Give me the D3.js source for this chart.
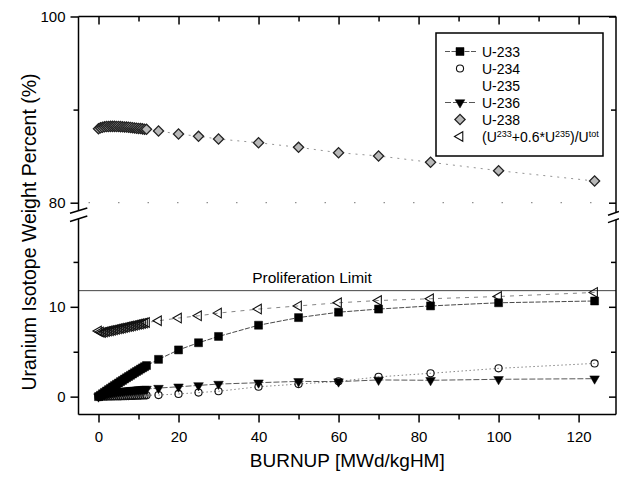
<!DOCTYPE html>
<html>
<head>
<meta charset="utf-8">
<script src="https://cdn.jsdelivr.net/npm/d3@7"></script>
<style>
  body { margin: 0; background: #fff; }
  text { font-family: "Liberation Sans", Arial, sans-serif; fill: #000; }
</style>
</head>
<body>
<svg id="chart"></svg>
<script>
// burnup steps (MWd/kgHM)
const burnup = [0, 0.5, 1, 1.5, 2, 2.5, 3, 3.5, 4, 4.5, 5, 5.5, 6, 6.5, 7, 7.5, 8, 8.5, 9, 9.5, 10, 10.5, 11, 11.5, 12,
  15, 20, 25, 30, 40, 50, 60, 70, 83, 100, 124];

// isotope weight percent
const u233 = [0, 0.16, 0.32, 0.48, 0.63, 0.78, 0.93, 1.08, 1.23, 1.38, 1.52, 1.67, 1.81, 1.96, 2.1, 2.24, 2.38, 2.52, 2.66, 2.8, 2.93, 3.07, 3.2, 3.33, 3.46,
  4.15, 5.2, 6.0, 6.7, 7.95, 8.8, 9.4, 9.75, 10.1, 10.45, 10.65];
const u234 = [0, 0, 0.01, 0.01, 0.01, 0.02, 0.02, 0.02, 0.03, 0.03, 0.04, 0.04, 0.05, 0.05, 0.06, 0.07, 0.08, 0.08, 0.09, 0.1, 0.11, 0.12, 0.13, 0.14, 0.15,
  0.18, 0.3, 0.45, 0.6, 1.1, 1.4, 1.7, 2.2, 2.6, 3.15, 3.7];
const u236 = [0, 0.12, 0.2, 0.27, 0.33, 0.38, 0.42, 0.46, 0.5, 0.53, 0.56, 0.59, 0.61, 0.64, 0.66, 0.68, 0.7, 0.72, 0.74, 0.76, 0.78, 0.8, 0.82, 0.84, 0.85,
  0.95, 1.1, 1.25, 1.4, 1.55, 1.7, 1.67, 1.86, 1.82, 1.93, 2.0];
const u238 = [87.95, 88.04, 88.1, 88.15, 88.18, 88.19, 88.2, 88.2, 88.2, 88.19, 88.18, 88.17, 88.15, 88.14, 88.12, 88.1, 88.08, 88.06, 88.03, 88.0, 87.98, 87.96, 87.93, 87.9, 87.88,
  87.7, 87.38, 87.13, 86.84, 86.44, 85.95, 85.37, 85.02, 84.34, 83.44, 82.33];
const ratio = [7.3, 7.2, 7.15, 7.2, 7.25, 7.3, 7.35, 7.4, 7.45, 7.5, 7.55, 7.6, 7.65, 7.7, 7.75, 7.8, 7.85, 7.9, 7.95, 8.0, 8.05, 8.1, 8.15, 8.2, 8.25,
  8.45, 8.75, 9.0, 9.3, 9.75, 10.1, 10.45, 10.7, 10.9, 11.15, 11.6];

const proliferationLimit = 11.8;

const xTicks = [0, 20, 40, 60, 80, 100, 120];
const xMinor = [10, 30, 50, 70, 90, 110];
const yTopTicks = [100, 80];
const yTopMinor = [90];
const yBotTicks = [0, 10];
const yBotMinor = [5, 15];

const W = 619, H = 479;
const L = 78.5, R = 616, T = 16.5, B = 414.6;

const svg = d3.select('#chart').attr('width', W).attr('height', H);

const x = d3.scaleLinear().domain([-5, 129.35]).range([L, R]);
const yTop = d3.scaleLinear().domain([80, 100]).range([202.7, T]);
const yBot = d3.scaleLinear().domain([-2, 20]).range([B, 217]);
const yOf = v => v >= 50 ? yTop(v) : yBot(v);

// faint dotted line at the break level
svg.append('line')
  .attr('x1', L + 10).attr('x2', R - 5)
  .attr('y1', yTop(80)).attr('y2', yTop(80))
  .attr('stroke', '#777').attr('stroke-width', 1)
  .attr('stroke-dasharray', '1.5,28');

// proliferation limit
svg.append('line')
  .attr('x1', L).attr('x2', R)
  .attr('y1', yBot(proliferationLimit)).attr('y2', yBot(proliferationLimit))
  .attr('stroke', '#444').attr('stroke-width', 1);
svg.append('text')
  .attr('x', 312).attr('y', yBot(proliferationLimit) - 8)
  .attr('text-anchor', 'middle')
  .style('font-size', '15.5px')
  .text('Proliferation Limit');

// connecting lines
const series = [
  { name: 'U-233', vals: u233, dash: '5,1.5', color: '#333' },
  { name: 'U-234', vals: u234, dash: '1.5,2.5', color: '#777' },
  { name: 'U-236', vals: u236, dash: '6,2', color: '#444' },
  { name: 'U-238', vals: u238, dash: '2,5', color: '#888' },
  { name: 'ratio', vals: ratio, dash: '4,5', color: '#777' }
];

const line = d3.line().x(d => x(d[0])).y(d => yOf(d[1]));
series.forEach(s => {
  svg.append('path')
    .datum(burnup.map((b, i) => [b, s.vals[i]]))
    .attr('d', line)
    .attr('fill', 'none')
    .attr('stroke', s.color)
    .attr('stroke-width', 0.9)
    .attr('stroke-dasharray', s.dash);
});

// markers
const sym = {
  square: d3.symbol().type(d3.symbolSquare).size(64),
  circle: d3.symbol().type(d3.symbolCircle).size(40),
  triDown: d3.symbol().type(d3.symbolTriangle).size(40),
  diamond: d3.symbol().type(d3.symbolSquare).size(52),
  triLeft: d3.symbol().type(d3.symbolTriangle).size(40)
};

function drawMarkers(vals, path, rot, fill, stroke, sw) {
  svg.append('g').selectAll('path')
    .data(burnup.map((b, i) => [b, vals[i]]))
    .join('path')
    .attr('d', path)
    .attr('transform', d => `translate(${x(d[0])},${yOf(d[1])}) rotate(${rot})`)
    .attr('fill', fill)
    .attr('stroke', stroke)
    .attr('stroke-width', sw);
}

drawMarkers(u238, sym.diamond, 45, '#b8b8b8', '#222', 1.3);
drawMarkers(ratio, sym.triLeft, -90, 'none', '#111', 1.1);
drawMarkers(u234, sym.circle, 0, 'none', '#111', 1.1);
drawMarkers(u236, sym.triDown, 180, '#000', '#000', 0.5);
drawMarkers(u233, sym.square, 0, '#000', '#000', 0.5);

// axes
const axisW = 1.5;
function tickAxis(axisFn, scale, ticks, size, labels, transform) {
  const g = svg.append('g').attr('transform', transform)
    .call(axisFn(scale).tickValues(ticks).tickSize(size).tickPadding(labels ? 5 : 0)
      .tickFormat(labels ? d3.format('d') : ''));
  g.select('.domain').remove();
  g.selectAll('line').attr('stroke', '#000').attr('stroke-width', axisW);
  g.selectAll('text').style('font-size', '15px').attr('fill', '#000');
  return g;
}

// bottom (outward), top (inward)
tickAxis(d3.axisBottom, x, xTicks, 8, true, `translate(0,${B})`)
  .selectAll('text').attr('dy', '0.95em');
tickAxis(d3.axisBottom, x, xMinor, 5, false, `translate(0,${B})`);
tickAxis(d3.axisBottom, x, xTicks, 8, false, `translate(0,${T})`);
tickAxis(d3.axisBottom, x, xMinor, 5, false, `translate(0,${T})`);

// left (outward)
tickAxis(d3.axisLeft, yTop, yTopTicks, 8, true, `translate(${L},0)`);
tickAxis(d3.axisLeft, yTop, yTopMinor, 5, false, `translate(${L},0)`);
tickAxis(d3.axisLeft, yBot, yBotTicks, 8, true, `translate(${L},0)`);
tickAxis(d3.axisLeft, yBot, yBotMinor, 5, false, `translate(${L},0)`);

// right (inward)
tickAxis(d3.axisLeft, yTop, yTopTicks, 7, false, `translate(${R},0)`);
tickAxis(d3.axisLeft, yTop, yTopMinor, 5, false, `translate(${R},0)`);
tickAxis(d3.axisLeft, yBot, yBotTicks, 7, false, `translate(${R},0)`);
tickAxis(d3.axisLeft, yBot, yBotMinor, 5, false, `translate(${R},0)`);

// frame lines with axis break
const frame = svg.append('g').attr('stroke', '#000').attr('stroke-width', axisW).attr('fill', 'none');
frame.append('line').attr('x1', L).attr('x2', R).attr('y1', T).attr('y2', T);
frame.append('line').attr('x1', L).attr('x2', R).attr('y1', B).attr('y2', B);
frame.append('line').attr('x1', L).attr('x2', L).attr('y1', T).attr('y2', 210.6);
frame.append('line').attr('x1', L).attr('x2', L).attr('y1', 218.6).attr('y2', B);
frame.append('line').attr('x1', R).attr('x2', R).attr('y1', T).attr('y2', 212.5);
frame.append('line').attr('x1', R).attr('x2', R).attr('y1', 219.8).attr('y2', B);
// break marks
frame.append('line').attr('x1', 70).attr('y1', 213.3).attr('x2', 87.3).attr('y2', 208);
frame.append('line').attr('x1', 70).attr('y1', 221.5).attr('x2', 87.3).attr('y2', 216);
frame.append('line').attr('x1', 608).attr('y1', 215.3).attr('x2', 619).attr('y2', 211.5);
frame.append('line').attr('x1', 608).attr('y1', 222.6).attr('x2', 619).attr('y2', 218.8);

// axis titles
svg.append('text')
  .attr('x', (L + R) / 2).attr('y', 467)
  .attr('text-anchor', 'middle')
  .style('font-size', '19px')
  .text('BURNUP [MWd/kgHM]');
svg.append('text')
  .attr('transform', 'translate(36,232) rotate(-90)')
  .attr('text-anchor', 'middle')
  .style('font-size', '19.5px')
  .text('Uranium Isotope Weight Percent (%)');

// legend
const leg = svg.append('g');
leg.append('rect')
  .attr('x', 436).attr('y', 33).attr('width', 167).attr('height', 123)
  .attr('fill', '#fff').attr('stroke', '#000').attr('stroke-width', 1.5);

const legendRows = ['U-233', 'U-234', 'U-235', 'U-236', 'U-238'];
const rowY = i => 51.5 + i * 17;
const symX = 460, textX = 482;

[[0, '5,1.5'], [3, '6,2']].forEach(([i, dash]) => {
  leg.append('line')
    .attr('x1', 445).attr('x2', 476).attr('y1', rowY(i)).attr('y2', rowY(i))
    .attr('stroke', '#444').attr('stroke-width', 0.9).attr('stroke-dasharray', dash);
});
const legSym = [
  [0, sym.square, 0, '#000', '#000', 0.5],
  [1, sym.circle, 0, 'none', '#111', 1.1],
  [3, sym.triDown, 180, '#000', '#000', 0.5],
  [4, sym.diamond, 45, '#b8b8b8', '#222', 1.3],
  [5, sym.triLeft, -90, 'none', '#111', 1.1]
];
legSym.forEach(([i, p, rot, fill, stroke, sw]) => {
  leg.append('path').attr('d', p())
    .attr('transform', `translate(${symX},${rowY(i)}) rotate(${rot})`)
    .attr('fill', fill).attr('stroke', stroke).attr('stroke-width', sw);
});

legendRows.forEach((name, i) => {
  leg.append('text')
    .attr('x', textX).attr('y', rowY(i) + 5)
    .style('font-size', '14px')
    .text(name);
});
const rt = leg.append('text')
  .attr('x', textX).attr('y', rowY(5) + 5)
  .style('font-size', '14px');
rt.append('tspan').text('(U');
rt.append('tspan').attr('dy', -5).style('font-size', '9px').text('233');
rt.append('tspan').attr('dy', 5).text('+0.6*U');
rt.append('tspan').attr('dy', -5).style('font-size', '9px').text('235');
rt.append('tspan').attr('dy', 5).text(')/U');
rt.append('tspan').attr('dy', -5).style('font-size', '9px').text('tot');
</script>
</body>
</html>
